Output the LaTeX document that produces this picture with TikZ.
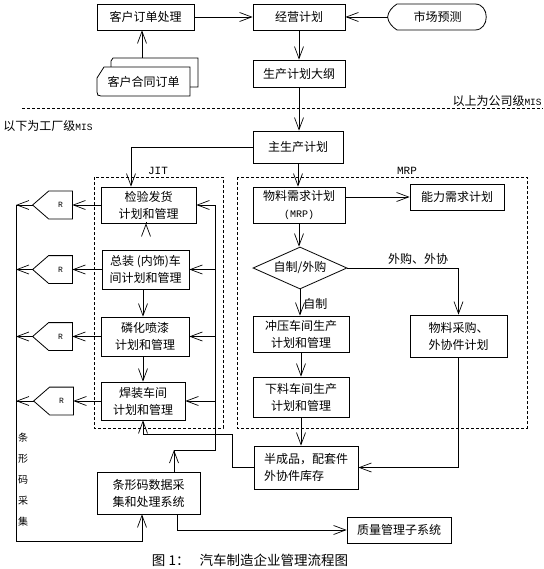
\documentclass[tikz,border=0pt]{standalone}
\usepackage{fontspec}
\usetikzlibrary{arrows.meta,shapes.geometric}
\newfontfamily\cjk{Noto Sans CJK SC}
\newfontfamily\lat{Liberation Mono}
\begin{document}
\begin{tikzpicture}[x=1pt,y=-1pt, line width=0.8pt,
  box/.style={draw, inner sep=0pt, align=center, font=\cjk\fontsize{12}{17}\selectfont},
  lbl/.style={inner sep=0pt, align=center, font=\cjk\fontsize{12}{15}\selectfont},
  latl/.style={inner sep=0pt, font=\lat\fontsize{11}{11}\selectfont},
  arr/.style={-{Straight Barb[length=12pt,width=9pt,line width=0.7pt]}},
  dbox/.style={draw, dash pattern=on 3pt off 2pt, line width=0.7pt},
  rnode/.style={inner sep=0pt, minimum width=23pt, minimum height=27pt, font=\lat\fontsize{8}{8}\selectfont},
  ]
\useasboundingbox (0,0) rectangle (543,569);

% ---- top level
\node[box, minimum width=97pt, minimum height=26pt] (order) at (145.5,17) {客户订单处理};
\node[box, minimum width=92pt, minimum height=26pt] (plan) at (299,17) {经营计划};
\node[lbl, minimum width=99pt, minimum height=26pt] (mkt) at (437.5,17) {市场预测};
\draw (397,4) -- (475,4) .. controls (490,4) and (490,30) .. (475,30) -- (397,30)
  .. controls (392,27) and (388,22) .. (mkt.west) .. controls (388,12) and (392,7) .. (397,4) -- cycle;

\node[lbl, minimum width=93pt, minimum height=30pt] (contract) at (143.5,82) {客户合同订单};
\draw (97,78) -- (104,67) -- (190,67) -- (190,96) -- (101,96) .. controls (98,96) and (97,95) .. (97,92) -- cycle;
\draw (111,67) -- (111,61) -- (113,58) -- (198,58) -- (198,87) -- (190,87);

\node[box, minimum width=92pt, minimum height=27pt] (outline) at (299,73.5) {生产计划大纲};
\node[box, minimum width=90pt, minimum height=32pt] (mps) at (298,147) {主生产计划};

\draw[arr] (order.east) -- (plan.west);
\draw[arr] (mkt.west) -- (plan.east);
\coordinate (ctop) at ([xshift=-1.5pt,yshift=9pt]contract.north);
\draw[arr] (ctop) -- (ctop |- order.south);
\draw[arr] (plan.south) -- (outline.north);
\draw[arr] (outline.south) -- (outline.south |- mps.north);

% ---- divider
\draw[dash pattern=on 3pt off 2pt, line width=0.7pt] (22,108) -- (543,108);
\node[lbl, anchor=south east] (upper) at (542,106.5) {以上为公司级{\lat\fontsize{9.5}{9.5}\selectfont MIS}};
\node[lbl, anchor=west] (lower) at (3,126) {以下为工厂级{\lat\fontsize{9.5}{9.5}\selectfont MIS}};

% ---- dashed groups
\draw[dbox] (94,177) rectangle (223,428);
\node[latl] (jitl) at (158,171) {JIT};
\draw[dbox] (237,177) rectangle (527,428);
\node[latl] (mrpl) at (407,171) {MRP};

% ---- MRP side
\node[box, minimum width=92pt, minimum height=36pt] (mrp) at (299,205) {物料需求计划\\{\lat\fontsize{10}{10}\selectfont (MRP)}};
\node[box, minimum width=94pt, minimum height=26pt] (cap) at (457,197) {能力需求计划};
\node[draw, diamond, shape aspect=2.24, inner sep=0pt, minimum width=94pt, minimum height=42pt,
      font=\cjk\fontsize{12}{15}\selectfont] (dia) at (300,268) {自制/外购};
\node[box, minimum width=96pt, minimum height=36pt] (stamp) at (301,334) {冲压车间生产\\计划和管理};
\node[box, minimum width=96pt, minimum height=40pt] (blank) at (301,397) {下料车间生产\\计划和管理};
\node[box, minimum width=97pt, minimum height=42pt] (purch) at (458.5,336) {物料采购、\\外协件计划};
\node[box, minimum width=104pt, minimum height=43pt, align=left] (semi) at (306,467.5) {半成品，配套件\\外协件库存};

\draw[arr] (mps.south) -- (mps.south |- mrp.north);
\draw[arr] (cap.west -| mrp.east) -- (cap.west);
\draw[arr] (mrp.south) -- (mrp.south |- dia.north);
\draw[arr] (dia.east) -| (purch.north);
\node[lbl] (wg) at (418,259) {外购、外协};
\draw[arr] (dia.south) -- node[lbl, right=3pt, pos=0.55] (zz) {自制} (dia.south |- stamp.north);
\draw[arr] (stamp.south -| blank.north) -- (blank.north);
\draw[arr] (blank.south) -- (blank.south |- semi.north);
\draw[arr] (purch.south) |- (semi.east);

% ---- JIT side
\node[box, minimum width=95pt, minimum height=36pt] (ship) at (148.5,205) {检验发货\\计划和管理};
\node[box, minimum width=87pt, minimum height=39pt] (assy) at (145.5,269.5) {总装 (内饰)车\\间计划和管理};
\node[box, minimum width=88pt, minimum height=39pt] (paint) at (145,336.5) {磷化喷漆\\计划和管理};
\node[box, minimum width=84pt, minimum height=38pt] (weld) at (143,401) {焊装车间\\计划和管理};

\coordinate (shipin) at ([xshift=-17.5pt]ship.north);
\draw[arr] (mps.west) -| (shipin);
\draw[arr] (ship.south -| 146,0) -- (ship.south -| 146,0 |- assy.north);
\draw[arr] (assy.south -| 143,0) -- (143,0 |- paint.north);
\draw[arr] (paint.south -| 143,0) -- (143,0 |- weld.north);

% semi-finished store back to welding
\draw[arr] (semi.west) -| (232,434) -| (weld.south);

% ---- R tags
\node[rnode] (r1) at (60.5,205) {R};
\node[rnode] (r2) at (60.5,269.5) {R};
\node[rnode] (r3) at (60.5,336.5) {R};
\node[rnode] (r4) at (61.5,401) {R};
\foreach \r in {r1,r2,r3,r4}{
  \draw (\r.north east) -- (\r.north west) -- ([xshift=-16pt]\r.west) -- (\r.south west) -- (\r.south east) -- cycle;
  \coordinate (\r t) at ([xshift=-16pt]\r.west);
}
\draw[arr] (ship.west) -- (r1.east);
\draw[arr] (assy.west) -- (r2.east);
\draw[arr] (paint.west) -- (r3.east);
\draw[arr] (weld.west) -- (r4.east);

% ---- barcode system
\node[box, minimum width=103pt, minimum height=42pt] (bar) at (148.5,493) {条形码数据采\\集和处理系统};
\node[box, minimum width=104pt, minimum height=26pt] (qual) at (399,530) {质量管理子系统};

% left bus
\coordinate (bl) at (16,541);
\draw (r1t -| bl) -- (bl);
\foreach \r in {r1,r2,r3,r4}{ \draw[arr] (\r t) -- (\r t -| bl); }
\draw[arr] (bl) -| ([xshift=-6.5pt]bar.south);
\node[inner sep=0pt, align=center, font=\cjk\fontsize{10}{21}\selectfont] (vt) at (23,479.5) {条\\形\\码\\采\\集};

% right bus
\coordinate (barup) at ([xshift=25.5pt]bar.north);
\coordinate (br) at (215,450);
\draw[arr] (barup) -- (barup |- br);
\draw (barup |- br) -- (br) -- (br |- ship.east);
\draw[arr] (br |- ship.east) -- (ship.east);
\draw[arr] (br |- assy.east) -- (assy.east);
\draw[arr] (br |- paint.east) -- (paint.east);
\draw[arr] (br |- weld.east) -- (weld.east);

% quality
\draw[arr] ([xshift=28.5pt]bar.south) |- (qual.west);

% caption
\node[inner sep=0pt, font=\cjk\fontsize{13.5}{14}\selectfont] (caption) at (250,560) {图~1：\hspace{10pt}汽车制造企业管理流程图};
\end{tikzpicture}
\end{document}
